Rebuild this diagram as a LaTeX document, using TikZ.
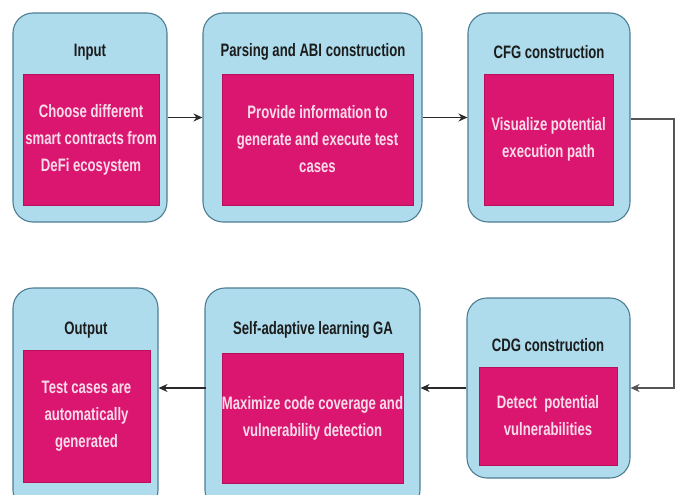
\documentclass[tikz,border=0pt]{standalone}
\usepackage{fontspec}
\setmainfont{Liberation Sans}[FakeStretch=0.73]
\usetikzlibrary{arrows.meta,calc}
\definecolor{outerfill}{HTML}{AEDCEC}
\definecolor{outerline}{HTML}{4E7E94}
\definecolor{pinkfill}{HTML}{DB1670}
\definecolor{pinkline}{HTML}{B80F5C}
\definecolor{pinktext}{HTML}{F9DCE9}
\definecolor{titletext}{HTML}{1C1C1C}
\definecolor{arrowline}{HTML}{2A2A2A}
\definecolor{sideline}{HTML}{555555}
\begin{document}
\begin{tikzpicture}[x=1pt,y=-1pt,
  outerbox/.style={draw=outerline,line width=1.1pt,fill=outerfill,rounded corners=20pt,inner sep=0pt},
  innerbox/.style={draw=pinkline,line width=0.6pt,fill=pinkfill,inner sep=0pt,text=pinktext,
    font=\fontsize{18}{27}\selectfont\bfseries,align=center},
  titlelabel/.style={text=titletext,font=\fontsize{18}{27}\selectfont\bfseries,inner sep=0pt},
  flow/.style={draw=arrowline,line width=1.5pt,-{Stealth[length=9pt,width=8pt]}}]
\useasboundingbox (0,0) rectangle (680,495);
\begin{scope}
\clip (0,0) rectangle (680,495);
% outer boxes
\node[outerbox,minimum width=154pt,minimum height=209pt] (b1) at (90,117.5) {};
\node[outerbox,minimum width=219pt,minimum height=209pt] (b2) at (312.5,117.5) {};
\node[outerbox,minimum width=162pt,minimum height=209pt] (b3) at (549,117.5) {};
\node[outerbox,minimum width=163pt,minimum height=180pt] (b4) at (548.5,388) {};
\node[outerbox,minimum width=215pt,minimum height=222pt] (b5) at (312.5,399) {};
\node[outerbox,minimum width=145pt,minimum height=222pt] (b6) at (85.5,399) {};
% titles
\node[titlelabel] (t1) at (90,52) {Input};
\node[titlelabel] (t2) at (313,52) {Parsing and ABI construction};
\node[titlelabel] (t3) at (549,52) {CFG construction};
\node[titlelabel] (t4) at (548,345) {CDG construction};
\node[titlelabel] (t5) at (313,330) {Self-adaptive learning GA};
\node[titlelabel] (t6) at (86,330) {Output};
% inner boxes
\node[innerbox,minimum width=136pt,minimum height=131pt] (i1) at (91,139.5)
  {Choose different\\smart contracts from\\DeFi ecosystem};
\node[innerbox,minimum width=191pt,minimum height=131pt] (i2) at (317.5,139.5)
  {Provide information to\\generate and execute test\\cases};
\node[innerbox,minimum width=129pt,minimum height=131pt] (i3) at (548.5,139.5)
  {Visualize potential\\execution path};
\node[innerbox,minimum width=138pt,minimum height=98pt] (i4) at (548,416)
  {Detect\ \ potential\\vulnerabilities};
\node[innerbox,minimum width=181pt,minimum height=130pt] (i5) at (312.5,418)
  {Maximize code coverage and\\vulnerability detection};
\node[innerbox,minimum width=127pt,minimum height=132pt] (i6) at (86.5,416)
  {Test cases are\\automatically\\generated};
\end{scope}
% connectors
\coordinate (turnA) at (674,119);
\coordinate (turnB) at (674,388);
\draw[flow] (b1.east) -- (b2.west);
\draw[flow] (b2.east) -- (b3.west);
\draw[flow,draw=sideline] (b3.east |- turnA) -- (turnA) -- (turnB) -- (b4.east);
\draw[flow] (b4.west) -- (b4.west -| b5.east);
\draw[flow] (b5.east |- b4.west) ++(-215pt,0) -- (b4.west -| b6.east);
\end{tikzpicture}
\end{document}
